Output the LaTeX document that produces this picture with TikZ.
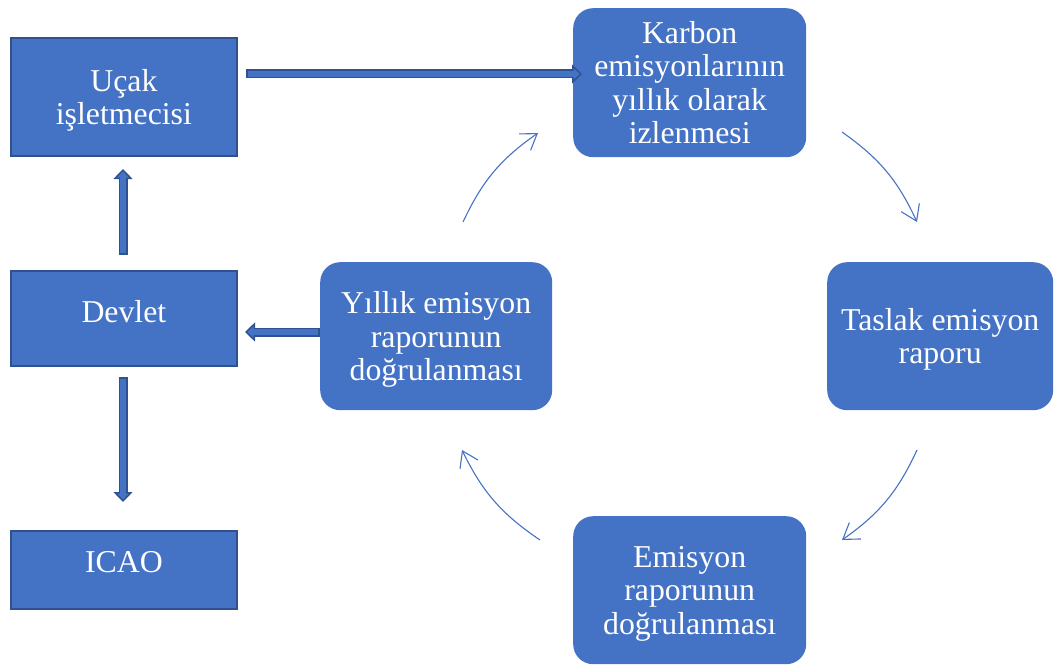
\documentclass[tikz,border=0pt]{standalone}
\usepackage{fontspec}
\setmainfont{Liberation Serif}
\usetikzlibrary{arrows.meta}
\definecolor{boxblue}{HTML}{4472C4}
\definecolor{edgeblue}{HTML}{2F528F}

% thick outlined block arrow between two named points
\newcommand\fatarrow[2]{%
  \draw[edgeblue, line width=9pt,
        -{Triangle[length=10pt,width=19pt,line width=1.5pt,fill=boxblue]}] (#1) -- (#2);
  \draw[boxblue, line width=5.5pt, shorten <=1.75pt, shorten >=7pt] (#1) -- (#2);}

\begin{document}
\begin{tikzpicture}[x=1pt, y=-1pt,
  labeltext/.style={text=white, font=\fontsize{31.8}{33.5}\selectfont, align=center, inner sep=0pt},
  squarebox/.style={labeltext, draw=edgeblue, line width=1.8pt, fill=boxblue, anchor=north west},
  roundbox/.style={labeltext, fill=boxblue, rounded corners=20pt, anchor=north west},
  cyclearrow/.style={draw=boxblue, line width=1.1pt, -{Straight Barb[length=15pt,width=20pt]}}
]
\useasboundingbox (0,0) rectangle (1054,666);

% left column
\node[squarebox, minimum width=226pt, minimum height=118pt, text depth=0pt] (ucak) at (10,37) {Uçak\\işletmecisi};
\node[squarebox, minimum width=226pt, minimum height=95pt, text depth=14pt] (devlet) at (10,270) {Devlet};
\node[squarebox, minimum width=226pt, minimum height=78pt, text depth=15pt] (icao) at (10,530) {ICAO};

% monitoring cycle
\node[roundbox, minimum width=233pt, minimum height=149pt] (izleme) at (573,8)
  {Karbon\\emisyonlarının\\yıllık olarak\\izlenmesi};
\node[roundbox, minimum width=226pt, minimum height=148pt, text depth=0pt] (taslak) at (827,262)
  {Taslak emisyon\\raporu};
\node[roundbox, minimum width=233pt, minimum height=148pt, text depth=0pt] (dogrulama) at (573,516)
  {Emisyon\\raporunun\\doğrulanması};
\node[roundbox, minimum width=232pt, minimum height=148pt, text depth=0pt] (yillik) at (320,262)
  {Yıllık emisyon\\raporunun\\doğrulanması};

% block arrows
\coordinate (ucakR) at (246,74);
\coordinate (izlemeL) at (582,74);
\coordinate (devletT) at (123,255);
\coordinate (ucakB) at (123,169);
\coordinate (yillikL) at (320,332);
\coordinate (devletR) at (245,332);
\coordinate (devletB) at (123,377);
\coordinate (icaoT) at (123,502);
\fatarrow{ucakR}{izlemeL}
\fatarrow{devletT}{ucakB}
\fatarrow{yillikL}{devletR}
\fatarrow{devletB}{icaoT}

% curved cycle arrows
\coordinate (a1) at (463,222); \coordinate (b1) at (538,133);
\coordinate (a2) at (842,132); \coordinate (b2) at (917,222);
\coordinate (a3) at (917,450); \coordinate (b3) at (842,540);
\coordinate (a4) at (540,540); \coordinate (b4) at (462,450);
\draw[cyclearrow] (a1) to[bend left=15] (b1);
\draw[cyclearrow] (a2) to[bend left=15] (b2);
\draw[cyclearrow] (a3) to[bend left=15] (b3);
\draw[cyclearrow] (a4) to[bend left=15] (b4);
\end{tikzpicture}
\end{document}
